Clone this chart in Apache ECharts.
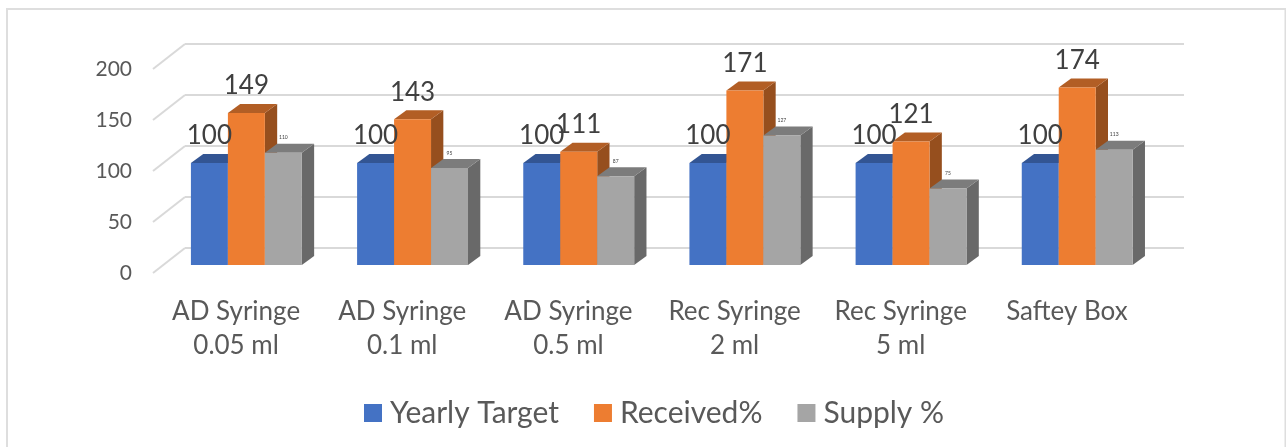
<!DOCTYPE html>
<html><head><meta charset="utf-8">
<script src="https://cdn.jsdelivr.net/npm/echarts@6/dist/echarts.min.js"></script>
<style>html,body{margin:0;padding:0;background:#fff}#c{width:1286px;height:447px}</style>
</head><body><div id="c"></div>
<script>
var categories = ['AD Syringe\n0.05 ml','AD Syringe\n0.1 ml','AD Syringe\n0.5 ml','Rec Syringe\n2 ml','Rec Syringe\n5 ml','Saftey Box'];
var yearlyTarget = [100,100,100,100,100,100];
var received = [149,143,111,171,121,174];
var supply = [110,95,87,127,75,113];
var yTicks = [0,50,100,150,200];

var FONT = 'Lato';
var DEPTH_X = 12.3, DEPTH_Y = 9;
function barSeries(name, values, idx, front, top, side, labelSize, labelGap) {
  return {
    name: name, type: 'custom', xAxisIndex: 2, yAxisIndex: 2,
    itemStyle: {color: front},
    data: values.map(function(v,i){return [i,v];}),
    renderItem: function(params, api) {
      var base = api.coord([api.value(0), 0]);
      var t = api.coord([api.value(0), api.value(1)]);
      var w = api.size([1,0])[0] * 0.2225;
      var x0 = base[0] + (idx - 1.5) * w, x1 = x0 + w, y0 = t[1], y1 = base[1];
      var dx = DEPTH_X, dy = DEPTH_Y;
      return {type:'group', children:[
        {type:'polygon', shape:{points:[[x1,y0],[x1+dx,y0-dy],[x1+dx,y1-dy],[x1,y1]]}, style:{fill:side}, z2:idx*3},
        {type:'polygon', shape:{points:[[x0,y0],[x0+dx,y0-dy],[x1+dx,y0-dy],[x1,y0]]}, style:{fill:top}, z2:idx*3+1},
        {type:'rect', shape:{x:x0,y:y0,width:w,height:y1-y0}, style:{fill:front}, z2:idx*3+2},
        {type:'text', z2:50, style:{text:String(api.value(1)), x:x0+w/2, y:y0-labelGap, align:'center', verticalAlign:'middle',
          fill:'#404040', font:labelSize+'px '+FONT}}
      ]};
    }
  };
}

var option = {
  animation:false,
  backgroundColor:'#fff',
  graphic:[{type:'rect', shape:{x:7,y:9,width:1278.5,height:460}, style:{fill:'none',stroke:'#dedede',lineWidth:2}, z:-10}],
  legend:{
    left:359, top:393, itemWidth:18, itemHeight:18, itemGap:35, icon:'rect',
    textStyle:{fontFamily:FONT, fontSize:30, color:'#595959', padding:[0,0,0,3]},
    data:['Yearly Target','Received%','Supply %']
  },
  grid:[
    {left:185, top:44, width:999, height:204},
    {left:153, top:69, width:997, height:204},
    {left:163.3, top:61, width:997, height:204}
  ],
  xAxis:[
    {gridIndex:0, type:'category', data:categories, show:false},
    {gridIndex:1, type:'category', data:categories, axisLine:{show:false}, axisTick:{show:false},
      axisLabel:{interval:0, margin:22, lineHeight:34, fontFamily:FONT, fontSize:26, color:'#595959'}},
    {gridIndex:2, type:'category', data:categories, show:false}
  ],
  yAxis:[
    {gridIndex:0, type:'value', min:0, max:200, interval:50, axisLabel:{show:false}, axisLine:{show:false}, axisTick:{show:false},
      splitLine:{show:true, lineStyle:{color:'#d9d9d9', width:2}}},
    {gridIndex:1, type:'value', min:0, max:200, interval:50, axisLine:{show:false}, axisTick:{show:false}, splitLine:{show:false},
      axisLabel:{margin:21, fontFamily:FONT, fontSize:21, color:'#595959'}},
    {gridIndex:2, type:'value', min:0, max:200, interval:50, show:false, splitLine:{show:false}}
  ],
  series:[
    {type:'custom', xAxisIndex:0, yAxisIndex:0, silent:true, z:1,
      data:yTicks.map(function(v){return [0,v];}),
      renderItem:function(params, api){
        var p = api.coord([0, api.value(1)]);
        var x = params.coordSys.x;
        return {type:'line', shape:{x1:x, y1:p[1], x2:x-32, y2:p[1]+25}, style:{stroke:'#d9d9d9', lineWidth:2, fill:'none'}};
      }},
    barSeries('Yearly Target', yearlyTarget, 0, '#4472c4', '#335593', '#2d4a80', 26, 27),
    barSeries('Received%', received, 1, '#ed7d31', '#b25e25', '#964f1e', 26, 27),
    barSeries('Supply %', supply, 2, '#a5a5a5', '#7c7c7c', '#696969', 5, 15)
  ]
};
var chart = echarts.init(document.getElementById('c'), null, {renderer:'canvas'});
chart.setOption(option);
</script></body></html>
